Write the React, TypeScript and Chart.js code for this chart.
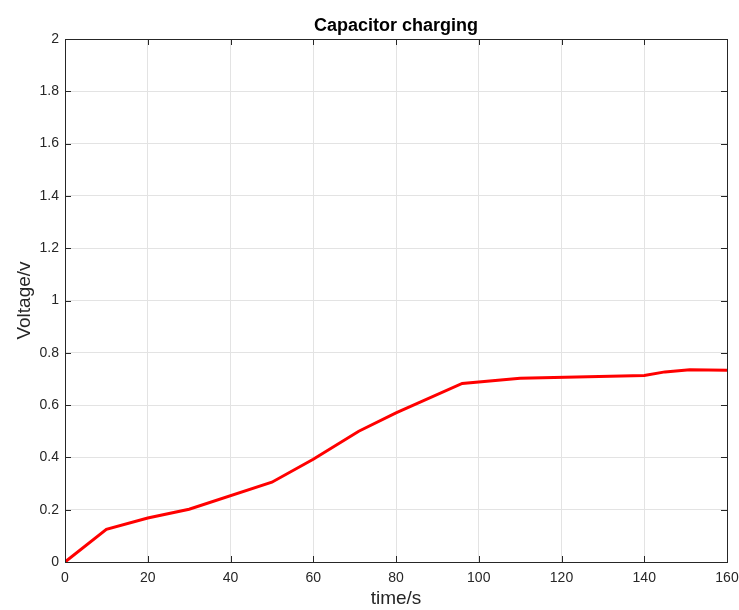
import React, { useEffect, useRef } from "react";
import { Chart, registerables } from "chart.js";

Chart.register(...registerables);

const timeS = [0, 10, 20, 30, 50, 60, 71, 80, 96, 110, 140, 145, 151, 160];
const voltageV = [0, 0.125, 0.168, 0.202, 0.305, 0.393, 0.5, 0.57, 0.683, 0.703, 0.713, 0.727, 0.735, 0.733];
const chartTitle = "Capacitor charging";
const xTitle = "time/s";
const yTitle = "Voltage/v";

const FONT = "'Liberation Sans', Arial, Helvetica, sans-serif";
const AXIS_COLOR = "#262626";

const boxPlugin = {
  id: "matlabBox",
  afterDraw(chart: any) {
    const { ctx, chartArea } = chart;
    const { left, right, top, bottom } = chartArea;
    const xs = chart.scales.x;
    const ys = chart.scales.y;
    ctx.save();
    ctx.strokeStyle = AXIS_COLOR;
    ctx.lineWidth = 1;
    const tl = 6;
    ctx.beginPath();
    xs.ticks.forEach((t: any) => {
      const px = Math.round(xs.getPixelForValue(t.value)) + 0.5;
      ctx.moveTo(px, bottom);
      ctx.lineTo(px, bottom - tl);
      ctx.moveTo(px, top);
      ctx.lineTo(px, top + tl);
    });
    ys.ticks.forEach((t: any) => {
      const py = Math.round(ys.getPixelForValue(t.value)) + 0.5;
      ctx.moveTo(left, py);
      ctx.lineTo(left + tl, py);
      ctx.moveTo(right, py);
      ctx.lineTo(right - tl, py);
    });
    ctx.stroke();
    ctx.strokeRect(Math.round(left) + 0.5, Math.round(top) + 0.5, Math.round(right - left), Math.round(bottom - top));
    ctx.fillStyle = "#000000";
    ctx.font = `bold 18px ${FONT}`;
    ctx.textAlign = "center";
    ctx.textBaseline = "alphabetic";
    ctx.fillText(chartTitle, (left + right) / 2, 31);
    ctx.restore();
  },
};

export default function App() {
  const ref = useRef<HTMLCanvasElement>(null);
  useEffect(() => {
    if (!ref.current) return;
    const chart = new Chart(ref.current, {
      type: "line",
      data: {
        datasets: [
          {
            data: timeS.map((t, i) => ({ x: t, y: voltageV[i] })),
            borderColor: "#ff0000",
            backgroundColor: "#ff0000",
            borderWidth: 3,
            pointRadius: 0,
            tension: 0,
            fill: false,
          },
        ],
      },
      options: {
        responsive: false,
        animation: false,
        layout: { padding: { top: 39, right: 12, left: 0, bottom: 0 } },
        plugins: { legend: { display: false }, title: { display: false }, tooltip: { enabled: false } },
        scales: {
          x: {
            type: "linear",
            min: 0,
            max: 160,
            ticks: {
              stepSize: 20,
              color: AXIS_COLOR,
              font: { family: FONT, size: 14 },
              padding: 8,
              maxRotation: 0,
            },
            grid: { color: "#e3e3e3", drawTicks: false },
            border: { display: false },
            title: {
              display: true,
              text: xTitle,
              color: AXIS_COLOR,
              font: { family: FONT, size: 19 },
              padding: { top: 0, bottom: 0 },
            },
            afterFit: (s: any) => {
              s.height = 48;
              s.paddingRight = 0;
              s.paddingLeft = 0;
            },
          },
          y: {
            min: 0,
            max: 2,
            ticks: {
              stepSize: 0.2,
              color: AXIS_COLOR,
              font: { family: FONT, size: 14 },
              padding: 6,
              callback: (v: any) => String(Number(Number(v).toFixed(1))),
            },
            grid: { color: "#e3e3e3", drawTicks: false },
            border: { display: false },
            title: {
              display: true,
              text: yTitle,
              color: AXIS_COLOR,
              font: { family: FONT, size: 19 },
              padding: { top: 13, bottom: 0 },
            },
            afterFit: (s: any) => {
              s.width = 65;
            },
          },
        },
      },
      plugins: [boxPlugin],
    });
    return () => chart.destroy();
  }, []);
  return (
    <div style={{ position: "absolute", left: 0, top: 0, width: 739, height: 610, background: "#fff" }}>
      <canvas ref={ref} width={739} height={610} />
    </div>
  );
}
